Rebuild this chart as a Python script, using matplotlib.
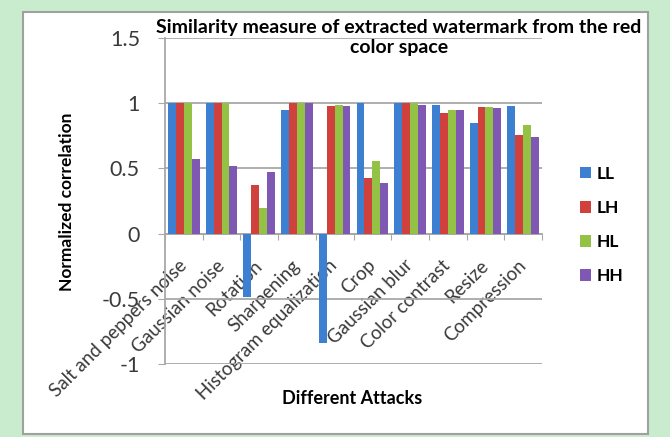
import numpy as np
import matplotlib
matplotlib.use('Agg')
import matplotlib.pyplot as plt
from matplotlib.patches import Rectangle

plt.rcParams['font.family'] = ['Lato', 'DejaVu Sans']

# --- data ---
attacks = ["Salt and peppers noise", "Gaussian noise", "Rotation", "Sharpening",
           "Histogram equalization", "Crop", "Gaussian blur", "Color contrast",
           "Resize", "Compression"]
LL = [1.0, 1.0, -0.49, 0.95, -0.84, 1.0, 1.0, 0.99, 0.845, 0.98]
LH = [1.0, 1.0, 0.37, 1.0, 0.975, 0.43, 1.0, 0.925, 0.97, 0.757]
HL = [1.0, 1.0, 0.20, 1.0, 0.985, 0.553, 1.0, 0.95, 0.97, 0.834]
HH = [0.574, 0.52, 0.47, 1.0, 0.977, 0.385, 0.99, 0.95, 0.96, 0.737]
series = {"LL": LL, "LH": LH, "HL": HL, "HH": HH}
colors = ["#3d7fd0", "#d0413e", "#93c244", "#7f58b4"]
yticks = [-1, -0.5, 0, 0.5, 1, 1.5]
ytick_labels = ["-1", "-0.5", "0", "0.5", "1", "1.5"]

W, H = 670, 437
fig = plt.figure(figsize=(W / 100, H / 100), dpi=100)
fig.patch.set_facecolor("#c8eccd")

# white chart panel
fig.patches.append(Rectangle((23 / W, 1 - 434 / H), 625 / W, 422 / H,
                             transform=fig.transFigure, facecolor="white",
                             edgecolor="#a0a0a0", linewidth=1.5, zorder=-5))

ax = fig.add_axes([165 / W, 1 - 364 / H, 377 / W, 326 / H])
ax.set_facecolor("none")

x = np.arange(len(attacks))
bw = 0.21
for i, (name, vals) in enumerate(series.items()):
    ax.bar(x + (i - 1.5) * bw, vals, width=bw, color=colors[i], label=name,
           zorder=3)

ax.set_ylim(-1, 1.5)
ax.set_xlim(-0.5, len(attacks) - 0.5)
ax.set_yticks(yticks)
ax.set_yticklabels(ytick_labels, fontsize=15.5, color="#3a3a3a")
ax.yaxis.grid(True, color="#a8a8a8", linewidth=1.3, zorder=0)

for s in ["top", "right"]:
    ax.spines[s].set_visible(False)
ax.spines["left"].set_color("#a8a8a8")
ax.spines["left"].set_linewidth(1.3)
ax.spines["bottom"].set_position(("data", 0))
ax.spines["bottom"].set_color("#a8a8a8")
ax.spines["bottom"].set_linewidth(1.3)

# group separators as major ticks, names on minor ticks at group centres
ax.set_xticks(np.arange(len(attacks) + 1) - 0.5, minor=False)
ax.set_xticklabels([])
ax.set_xticks(x, minor=True)
ax.set_xticklabels(attacks, minor=True, rotation=45, ha="right", va="center",
                   rotation_mode="anchor", fontsize=13.5, color="#3a3a3a")
ax.tick_params(axis="x", which="major", length=4, color="#a8a8a8", direction="out")
ax.tick_params(axis="x", which="minor", length=0, pad=21)
ax.tick_params(axis="y", length=5, color="#a8a8a8", pad=13)

fig.text(399 / W, 1 - 27 / H,
         "Similarity measure of extracted watermark from the red",
         ha="center", va="center", fontsize=14, fontweight="bold")
fig.text(399 / W, 1 - 48 / H, "color space",
         ha="center", va="center", fontsize=14, fontweight="bold")
fig.text(67 / W, 1 - 202 / H, "Normalized correlation", rotation=90,
         ha="center", va="center", fontsize=12.5, fontweight="bold")
fig.text(352 / W, 1 - 398 / H, "Different Attacks", ha="center", va="center",
         fontsize=13, fontweight="bold")

ax.legend(loc="upper left", bbox_to_anchor=(571 / W, 1 - 157 / H),
          bbox_transform=fig.transFigure, frameon=False,
          handlelength=0.65, handleheight=0.65, handletextpad=0.35,
          labelspacing=1.05, borderpad=0, prop={"weight": "bold", "size": 12.5})

fig.savefig("out.png", dpi=100, facecolor=fig.get_facecolor())
